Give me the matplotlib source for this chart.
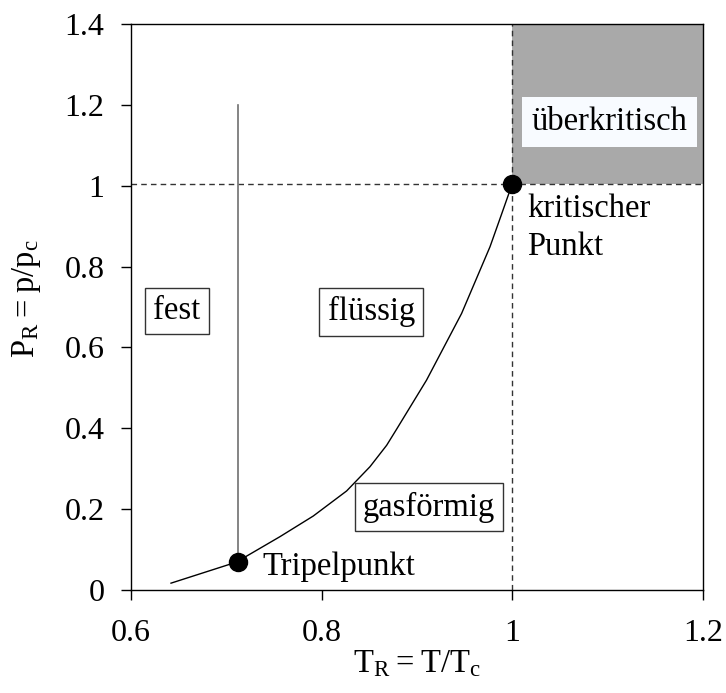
import matplotlib.pyplot as plt

plt.rcParams['font.family'] = ['Liberation Serif', 'DejaVu Serif']
plt.rcParams['mathtext.fontset'] = 'custom'
plt.rcParams['mathtext.rm'] = 'Liberation Serif'

# Dampfdruckkurve
curve_t = [0.642, 0.712, 0.7214, 0.7563, 0.7912, 0.8262, 0.8507, 0.8682,
           0.8787, 0.910, 0.9468, 0.9766, 0.9888, 1.0]
curve_p = [0.017, 0.070, 0.084, 0.132, 0.183, 0.245, 0.305, 0.358,
           0.398, 0.519, 0.684, 0.849, 0.930, 1.005]

# Schmelzlinie
melt_t = [0.712, 0.712]
melt_p = [0.070, 1.20]

# Tripelpunkt und kritischer Punkt
points_t = [0.712, 1.0]
points_p = [0.070, 1.005]

x_ticks = [0.6, 0.8, 1.0, 1.2]
x_labels = ['0.6', '0.8', '1', '1.2']
y_ticks = [0, 0.2, 0.4, 0.6, 0.8, 1.0, 1.2, 1.4]
y_labels = ['0', '0.2', '0.4', '0.6', '0.8', '1', '1.2', '1.4']

fs = 23.5

fig = plt.figure(figsize=(7.26, 6.93), dpi=100)
ax = fig.add_axes([0.1804, 0.1486, 0.7879, 0.8168])

# überkritischer Bereich
ax.fill_between([1.0, 1.2], 1.005, 1.4, color='#a9a9a9', lw=0, zorder=0)

ax.axhline(1.005, color='#333333', lw=1, ls=(0, (4, 3)), zorder=1)
ax.axvline(1.0, color='#333333', lw=1, ls=(0, (4, 3)), zorder=1)

ax.plot(melt_t, melt_p, color='#707070', lw=1.2, zorder=2)
ax.plot(curve_t, curve_p, color='black', lw=1, zorder=2)
ax.plot(points_t, points_p, 'o', color='black', markersize=13, zorder=3)

box = dict(boxstyle='square,pad=0.25', facecolor='white', edgecolor='#333333', lw=1)
ax.text(0.648, 0.690, 'fest', fontsize=fs, ha='center', va='center', bbox=box)
ax.text(0.852, 0.688, 'flüssig', fontsize=fs, ha='center', va='center', bbox=box)
ax.text(0.9126, 0.205, 'gasförmig', fontsize=fs, ha='center', va='center', bbox=box)
ax.text(1.102, 1.158, 'überkritisch', fontsize=fs, ha='center', va='center',
        bbox=dict(boxstyle='square,pad=0.3', facecolor='#f8fbff', edgecolor='none'))
ax.text(1.0154, 0.98, 'kritischer\nPunkt', fontsize=fs, ha='left', va='top',
        linespacing=1.3)
ax.text(0.7374, 0.037, 'Tripelpunkt', fontsize=fs, ha='left', va='baseline')

ax.set_xlim(0.6, 1.2)
ax.set_ylim(0, 1.4)
ax.set_xticks(x_ticks)
ax.set_xticklabels(x_labels)
ax.set_yticks(y_ticks)
ax.set_yticklabels(y_labels)
ax.tick_params(direction='out', length=7, width=1, labelsize=23)
ax.tick_params(axis='x', pad=14)
ax.tick_params(axis='y', pad=12)

for s in ax.spines.values():
    s.set_linewidth(1)

ax.set_xlabel(r'$\mathregular{T_R = T/T_c}$', fontsize=fs)
ax.set_ylabel(r'$\mathregular{P_R = p/p_c}$', fontsize=fs)
ax.xaxis.set_label_coords(0.5, -0.103)
ax.yaxis.set_label_coords(-0.154, 0.515)

plt.savefig('out.png', dpi=100)
